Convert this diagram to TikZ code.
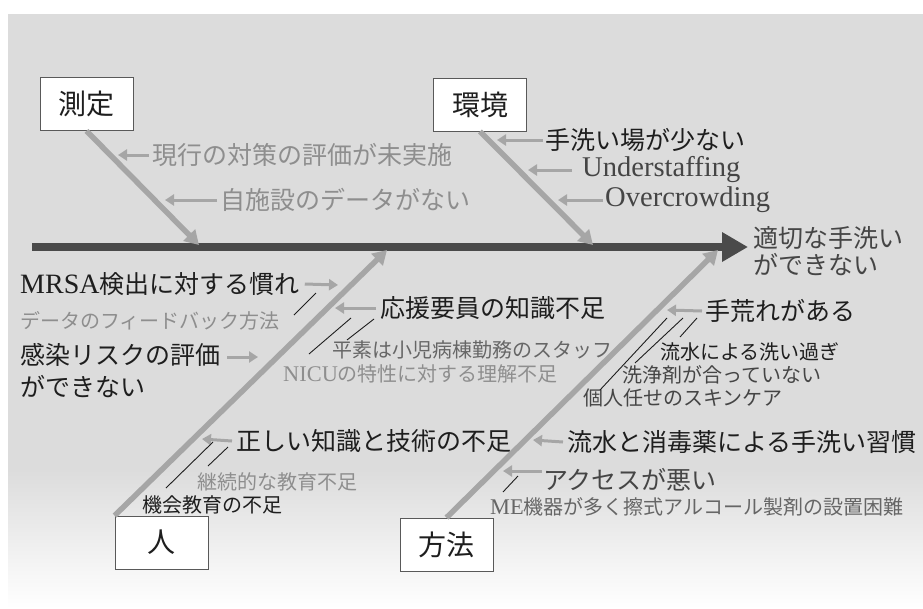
\documentclass[tikz,border=0pt]{standalone}
\usepackage{fontspec}
\setmainfont{Liberation Serif}
\newfontfamily\jp{Noto Sans CJK JP}
\newfontfamily\lat[Scale=1.12]{Liberation Serif}
\usetikzlibrary{arrows.meta,calc}
\definecolor{bg}{HTML}{DCDCDC}
\definecolor{bonec}{HTML}{A6A6A6}
\definecolor{spinec}{HTML}{4A4A4A}
\definecolor{txtk}{HTML}{1E1E1E}
\definecolor{txtd}{HTML}{454545}
\definecolor{txtm}{HTML}{666666}
\definecolor{txtl}{HTML}{8E8E8E}
\begin{document}
\begin{tikzpicture}[x=1pt,y=-1pt,
  catbox/.style={draw=black!65, fill=white, line width=0.8pt, minimum width=93pt, minimum height=53pt, inner sep=0pt, font=\jp\fontsize{28}{30}\selectfont, text=txtk},
  big/.style={inner sep=0pt, anchor=west, font=\jp\fontsize{25}{32}\selectfont, text=txtk, align=left},
  small/.style={inner sep=0pt, anchor=west, font=\jp\fontsize{20}{24}\selectfont, text=txtk},
  spine/.style={draw=spinec, line width=8pt, -{Triangle[length=26pt,width=28pt]}},
  bone/.style={draw=bonec, line width=5.5pt, -{Triangle[length=14pt,width=16pt]}},
  sub/.style={draw=bonec, line width=3pt, -{Triangle[length=9pt,width=11pt]}},
  thin/.style={draw=txtk, line width=0.9pt}]
\useasboundingbox (0,0) rectangle (923,608);
% background
\fill[white] (0,0) rectangle (923,608);
\fill[bg] (8,14) rectangle (923,471);
\shade[top color=bg, bottom color=white] (8,470) rectangle (923,608);

% category boxes
\node[catbox] (meas) at (86.5,104) {測定};
\node[catbox] (env) at (480,104.5) {環境};
\node[catbox] (ppl) at (161.5,542.5) {人};
\node[catbox] (meth) at (446.5,544.5) {方法};

% effect
\node[big, text=txtd, anchor=base west, font=\jp\fontsize{25}{27}\selectfont] (eff) at (753,274) {適切な手洗い\\ができない};

% spine
\coordinate (sp0) at (32,247);
\draw[spine] (sp0) -- ([xshift=-5pt]sp0 -| eff.west);

% bone tips on spine
\coordinate (tm) at (199,245);
\coordinate (te) at (593,245);
\coordinate (tp) at (387,250);
\coordinate (tf) at (718,250);
\draw[bone] (meas.south) -- (tm);
\draw[bone] (env.south) -- (te);
\draw[bone] (ppl.north west) -- (tp);
\draw[bone] (meth.north) -- (tf);

% ---- 測定
\node[big, text=txtl] (g1) at (152,155) {現行の対策の評価が未実施};
\node[big, text=txtl] (g2) at (220,200) {自施設のデータがない};
\coordinate (c1) at (118,155);
\coordinate (c2) at (165,200);
\draw[sub] ([xshift=-3pt]g1.west) -- (c1);
\draw[sub] ([xshift=-3pt]g2.west) -- (c2);

% ---- 環境
\node[big] (e1) at (545,140) {手洗い場が少ない};
\node[big, text=txtd, font=\lat\fontsize{25.5}{30}\selectfont] (e2) at (582,170) {Understaffing};
\node[big, text=txtd, font=\lat\fontsize{25.5}{30}\selectfont] (e3) at (605,200) {Overcrowding};
\coordinate (c3) at (497,140);
\coordinate (c4) at (528,170);
\coordinate (c5) at (558,200);
\draw[sub] ([xshift=-2pt]e1.west) -- (c3);
\draw[sub] ([xshift=-10pt]e2.west) -- (c4);
\draw[sub] ([xshift=-2pt]e3.west) -- (c5);

% ---- 人
\node[big] (p1) at (20,284) {{\lat MRSA}検出に対する慣れ};
\node[small, text=txtl] (p2) at (20,321) {データのフィードバック方法};
\node[big, anchor=base west] (p3) at (20,396) {感染リスクの評価\\ができない};
\coordinate (c6) at (338,285);
\coordinate (c7) at (258,357);
\draw[sub] ([xshift=5pt]p1.east) -- (c6);
\draw[sub] ($(p3.north east |- c7)+(7,0)$) -- (c7);
\draw[thin] (294,315) -- (316,293);

\node[big] (p4) at (380,308) {応援要員の知識不足};
\node[small, text=txtm] (p5) at (332,350) {平素は小児病棟勤務のスタッフ};
\node[small, text=txtl] (p6) at (283,374) {{\lat NICU}の特性に対する理解不足};
\coordinate (c8) at (335,308);
\draw[sub] ([xshift=-4pt]p4.west) -- (c8);
\draw[thin] (309,354) -- (351,318);
\draw[thin] (347,340) -- (374,319);

\node[big] (p7) at (236,441) {正しい知識と技術の不足};
\node[small, text=txtl] (p8) at (197,482) {継続的な教育不足};
\node[small] (p9) at (142,505) {機会教育の不足};
\coordinate (c9) at (202,439);
\draw[sub] ([xshift=-4pt]p7.west) -- (c9);
\draw[thin] (166,488) -- (213,442);
\draw[thin] (208,466) -- (228,447);

% ---- 方法
\node[big] (m1) at (705,311) {手荒れがある};
\node[small] (m2) at (660,352) {流水による洗い過ぎ};
\node[small, text=txtd] (m3) at (622,375) {洗浄剤が合っていない};
\node[small, text=txtd] (m4) at (583,398) {個人任せのスキンケア};
\coordinate (c10) at (667,310);
\draw[sub] ([xshift=-3pt]m1.west) -- (c10);
\draw[thin] (600,390) -- (667,318);
\draw[thin] (635,363) -- (683,318);
\draw[thin] (680,337) -- (697,318);

\node[big] (m5) at (567,442) {流水と消毒薬による手洗い習慣};
\node[big, text=txtd] (m6) at (543,480) {アクセスが悪い};
\node[small, text=txtm] (m7) at (490,507) {{\lat ME}機器が多く擦式アルコール製剤の設置困難};
\coordinate (c11) at (533,440);
\coordinate (c12) at (503,471);
\draw[sub] ([xshift=-4pt]m5.west) -- (c11);
\draw[sub] ($(m6.west |- c12)+(-1,0)$) -- (c12);
\draw[thin] (503,492) -- (518,476);
\end{tikzpicture}
\end{document}
